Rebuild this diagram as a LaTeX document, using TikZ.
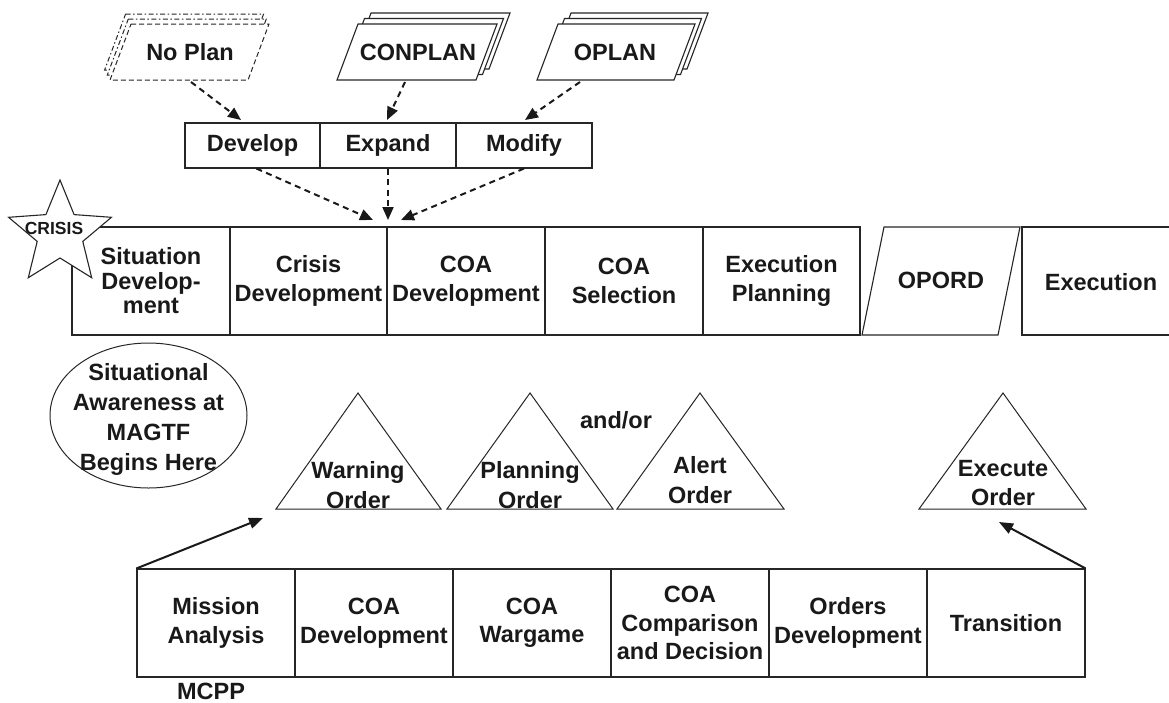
\documentclass[tikz,border=0pt]{standalone}
\usepackage{fontspec}
\setmainfont{Liberation Sans}
\usetikzlibrary{arrows.meta}
\begin{document}
\begin{tikzpicture}[x=1pt,y=-1pt,
 txt/.style={font=\fontsize{23.5}{28.5}\selectfont\bfseries, align=center, inner sep=0pt, text=black!90},
 cell/.style={txt, draw=black!85, line width=1.1pt, minimum height=108pt},
 dcell/.style={txt, draw=black!85, line width=1.1pt, minimum height=45pt},
 outl/.style={draw=black!85, line width=1.1pt, fill=white},
 dashout/.style={draw=black!85, line width=1pt, fill=white, dash pattern=on 5pt off 2.5pt on 1.5pt off 2.5pt},
 dashfront/.style={draw=black!85, line width=1pt, fill=white, dash pattern=on 5pt off 3pt},
 dasharrow/.style={draw=black!90, line width=2pt, dash pattern=on 6pt off 4.5pt, -{Triangle[length=13pt,width=11pt]}},
 solarrow/.style={draw=black!90, line width=2pt, -{Triangle[length=14pt,width=11pt]}},
]
\useasboundingbox (0,0) rectangle (1169,702);

% ---------- top plan shapes ----------
% No Plan (dashed stack)
\path[dashout] (125.6,14) -- (263.6,14) -- (242.6,70) -- (104.6,70) -- cycle;
\path[dashout] (128.3,19) -- (266.3,19) -- (245.3,75) -- (107.3,75) -- cycle;
\path[dashfront] (131,24) -- (269,24) -- (248,80) -- (110,80) -- cycle;
\node[txt] (noplan) at (190,52) {No Plan};
% CONPLAN
\path[outl] (371,13) -- (510,13) -- (489,69) -- (350,69) -- cycle;
\path[outl] (364.5,18.5) -- (503.5,18.5) -- (482.5,74.5) -- (343.5,74.5) -- cycle;
\path[outl] (358,24) -- (497,24) -- (476,80) -- (337,80) -- cycle;
\node[txt] (conplan) at (418,52) {CONPLAN};
% OPLAN
\path[outl] (571,13) -- (708,13) -- (687,69) -- (550,69) -- cycle;
\path[outl] (564.5,18.5) -- (701.5,18.5) -- (680.5,74.5) -- (543.5,74.5) -- cycle;
\path[outl] (558,24) -- (695,24) -- (674,80) -- (537,80) -- cycle;
\node[txt] (oplan) at (615,52) {OPLAN};

% ---------- Develop / Expand / Modify ----------
\node[dcell, minimum width=135pt] (dev) at (252.5,145.5) {Develop};
\node[dcell, minimum width=136pt] (exp) at (388,145.5) {Expand};
\node[dcell, minimum width=136pt] (mod) at (524,145.5) {Modify};

% ---------- top row ----------
\node[cell, minimum width=158pt, font=\fontsize{23.5}{24.5}\selectfont\bfseries] (r1) at (151,281) {Situation\\Develop-\\ment};
\node[cell, minimum width=157pt] (r2) at (308.5,281) {Crisis\\Development};
\node[cell, minimum width=158pt] (r3) at (466,281) {COA\\Development};
\node[cell, minimum width=158pt] (r4) at (624,281) {COA\\Selection};
\node[cell, minimum width=157pt] (r5) at (781.5,281) {Execution\\Planning};
\path[outl] (862,335) -- (884,227) -- (1020,227) -- (998,335) -- cycle;
\node[txt] (opord) at (941,280) {OPORD};
\draw[draw=black!85, line width=1.1pt] (1169,227) -- (1022,227) -- (1022,335) -- (1169,335);
\node[txt] (exe) at (1101,282) {Execution};

% ---------- CRISIS star ----------
\path[outl] (60,180) -- (74.1,214.6) -- (111.4,217.3) -- (82.8,241.4) -- (91.7,277.7)
  -- (60,258) -- (28.3,277.7) -- (37.2,241.4) -- (8.6,217.3) -- (45.9,214.6) -- cycle;
\node[txt, font=\fontsize{17.5}{20}\selectfont\bfseries] (crisis) at (54,228) {CRISIS};

% ---------- arrows into top row ----------
\coordinate (devIn) at (241,120);
\coordinate (expIn) at (387,120);
\coordinate (modIn) at (525,120);
\coordinate (npOut) at (191,82);
\coordinate (cpOut) at (405,82);
\coordinate (opOut) at (580,82);
\draw[dasharrow] (npOut) -- (devIn);
\draw[dasharrow] (cpOut) -- (expIn);
\draw[dasharrow] (opOut) -- (modIn);
\coordinate (t1) at (373,220);
\coordinate (t2) at (388,220);
\coordinate (t3) at (401,220);
\draw[dasharrow] ([xshift=4pt]dev.south) -- (t1);
\draw[dasharrow] (exp.south) -- (t2);
\draw[dasharrow] (mod.south) -- (t3);

% ---------- ellipse ----------
\draw[draw=black!85, line width=1pt] (148.5,415.5) ellipse [x radius=98.5, y radius=72.5];
\node[txt, font=\fontsize{23.5}{30}\selectfont\bfseries] (sa) at (148.5,419) {Situational\\Awareness at\\MAGTF\\Begins Here};

% ---------- order triangles ----------
\path[outl, line width=1pt] (276,509) -- (358,393) -- (441,509) -- cycle;
\node[txt, font=\fontsize{23.5}{29.5}\selectfont\bfseries] (warn) at (358,485) {Warning\\Order};
\path[outl, line width=1pt] (447,509) -- (530,393) -- (613,509) -- cycle;
\node[txt, font=\fontsize{23.5}{29.5}\selectfont\bfseries] (plan) at (530,485) {Planning\\Order};
\path[outl, line width=1pt] (617,509) -- (700,393) -- (784,509) -- cycle;
\node[txt, font=\fontsize{23.5}{29.5}\selectfont\bfseries] (alert) at (700,480) {Alert\\Order};
\path[outl, line width=1pt] (919,509) -- (1003,393) -- (1086,509) -- cycle;
\node[txt, font=\fontsize{23.5}{29.5}\selectfont\bfseries] (exord) at (1003,483) {Execute\\Order};
\node[txt] (andor) at (616,420) {and/or};

% ---------- bottom row ----------
\node[cell, minimum width=158pt] (b1) at (216,623) {Mission\\Analysis};
\node[cell, minimum width=158pt] (b2) at (374,623) {COA\\Development};
\node[cell, minimum width=158pt] (b3) at (532,623) {COA\\Wargame};
\node[cell, minimum width=158pt] (b4) at (690,623) {COA\\Comparison\\and Decision};
\node[cell, minimum width=158pt] (b5) at (848,623) {Orders\\Development};
\node[cell, minimum width=158pt] (b6) at (1006,623) {Transition};
\node[txt] (mcpp) at (211,691) {MCPP};

\coordinate (wIn) at (263,518);
\coordinate (eIn) at (999,522);
\draw[solarrow] (b1.north west) -- (wIn);
\draw[solarrow] (b6.north east) -- (eIn);
\end{tikzpicture}
\end{document}
